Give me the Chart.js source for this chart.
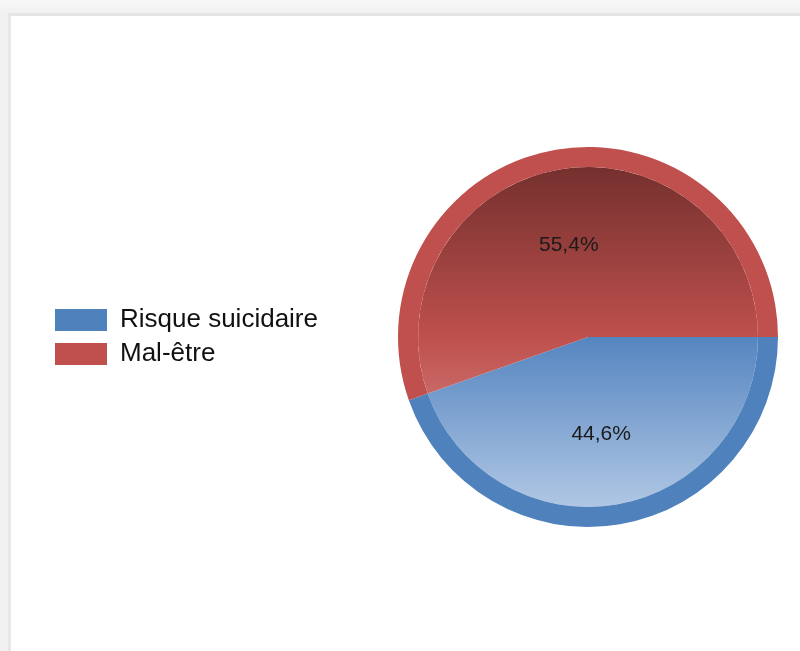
<!DOCTYPE html>
<html>
<head>
<meta charset="utf-8">
<script src="https://cdn.jsdelivr.net/npm/chart.js@4.4.1/dist/chart.umd.min.js"></script>
<style>
  html, body { margin: 0; padding: 0; }
  body {
    width: 800px; height: 651px; overflow: hidden; position: relative;
    background: linear-gradient(to bottom, #f8f8f8, #f1f1f1 14px);
  }
  #panel {
    position: absolute; left: 8px; top: 13px; right: -20px; bottom: -20px;
    background: #fff;
    border-left: 3px solid #e8e8e8;
    border-top: 3px solid #e5e5e5;
  }
  #wrap { position: absolute; left: 11px; top: 16px; width: 860px; height: 635px; }
</style>
</head>
<body>
<div id="panel"></div>
<div id="wrap"><canvas id="pie"></canvas></div>
<script>
  // Répartition des réponses (%)
  const labels = ['Risque suicidaire', 'Mal-être'];
  const values = [44.6, 55.4];
  const ringColors = ['#4f81bd', '#c0504d'];
  // dégradé vertical de la partie intérieure (haut, milieu, bas)
  const fillStops = [
    ['#2f5889', '#5585c0', '#b0c7e4'],
    ['#74302e', '#be504d', '#dc9a97']
  ];

  const INNER_R = 170;

  function innerFill(ctx) {
    const area = ctx.chart.chartArea;
    if (!area) return ringColors[ctx.dataIndex];
    const cy = (area.top + area.bottom) / 2;
    const g = ctx.chart.ctx.createLinearGradient(0, cy - INNER_R, 0, cy + INNER_R);
    const s = fillStops[ctx.dataIndex];
    g.addColorStop(0, s[0]);
    g.addColorStop(0.5, s[1]);
    g.addColorStop(1, s[2]);
    return g;
  }

  // pourcentages écrits au milieu de chaque part
  const sliceLabels = {
    id: 'sliceLabels',
    afterDatasetsDraw(chart) {
      const meta = chart.getDatasetMeta(1);
      const c = chart.ctx;
      c.save();
      c.font = '21px Arial, "Liberation Sans", sans-serif';
      c.fillStyle = '#1a1a1a';
      c.textAlign = 'center';
      c.textBaseline = 'middle';
      meta.data.forEach((arc, i) => {
        const p = arc.getProps(['x', 'y', 'startAngle', 'endAngle']);
        const mid = (p.startAngle + p.endAngle) / 2;
        const r = 96;
        const txt = String(values[i]).replace('.', ',') + '%';
        c.fillText(txt, p.x - 3 + Math.cos(mid) * r, p.y + 3 + Math.sin(mid) * r);
      });
      c.restore();
    }
  };

  Chart.defaults.font.family = 'Arial, "Liberation Sans", sans-serif';

  new Chart(document.getElementById('pie'), {
    type: 'pie',
    data: {
      labels: labels,
      datasets: [
        { data: values, backgroundColor: ringColors, borderWidth: 0, weight: 20 },
        { data: values, backgroundColor: innerFill, borderWidth: 0, weight: 170 }
      ]
    },
    options: {
      responsive: true,
      maintainAspectRatio: false,
      animation: false,
      events: [],
      rotation: 90,
      radius: 190,
      layout: { padding: { left: 36, right: 23, top: 20, bottom: 13 } },
      plugins: {
        tooltip: { enabled: false },
        legend: {
          position: 'left',
          labels: {
            boxWidth: 52,
            boxHeight: 22,
            padding: 8,
            color: '#111',
            font: { size: 26 }
          }
        }
      }
    },
    plugins: [sliceLabels]
  });
</script>
</body>
</html>
